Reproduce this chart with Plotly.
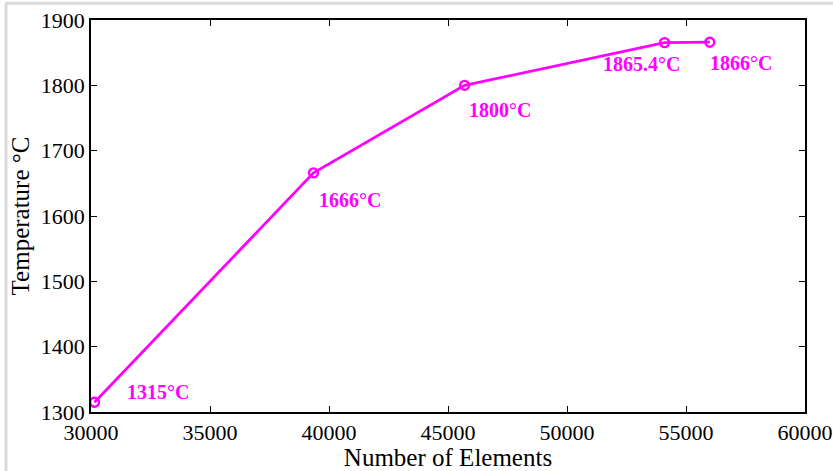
import plotly.graph_objects as go

# Mesh refinement study: peak temperature vs. element count
elements = [30150, 39350, 45700, 54100, 56000]
temperature = [1315, 1666, 1800, 1865.4, 1866]
labels = ["1315°C", "1666°C", "1800°C", "1865.4°C", "1866°C"]
# label offsets from each point, in pixels (dx, dy)
label_dx = [30, 3, 2, -64, -2]
label_dy = [10, -27, -25, -21, -21]

x_ticks = [30000, 35000, 40000, 45000, 50000, 55000, 60000]
y_ticks = [1300, 1400, 1500, 1600, 1700, 1800, 1900]

MAGENTA = "#ff00ff"
FONT = "Liberation Serif"

fig = go.Figure()
fig.add_trace(go.Scatter(
    x=elements, y=temperature, mode="lines+markers",
    line=dict(color=MAGENTA, width=2.8),
    marker=dict(symbol="circle-open", size=9, color=MAGENTA, line=dict(width=2.4)),
    showlegend=False, hoverinfo="skip",
))

for xv, yv, txt, dx, dy in zip(elements, temperature, labels, label_dx, label_dy):
    fig.add_annotation(
        x=xv, y=yv, text=f"<b>{txt}</b>", showarrow=False,
        xanchor="left", yanchor="middle", xshift=dx, yshift=dy,
        font=dict(family=FONT, size=20, color=MAGENTA),
    )

axis_common = dict(
    showgrid=False, zeroline=False, showline=True, linecolor="black", linewidth=1.5,
    mirror="ticks", ticks="inside", ticklen=6, tickwidth=1, tickcolor="black",
    tickfont=dict(family=FONT, size=22, color="black"), automargin=False,
)

fig.update_xaxes(range=[30000, 60000], tickvals=x_ticks,
                 ticktext=[str(v) for v in x_ticks],
                 title=dict(text="Number of Elements", standoff=0,
                            font=dict(family=FONT, size=25, color="black")),
                 **axis_common)
fig.update_yaxes(range=[1300, 1900], tickvals=y_ticks,
                 ticktext=[str(v) for v in y_ticks],
                 title=dict(text="Temperature °C", standoff=4,
                            font=dict(family=FONT, size=25, color="black")),
                 **axis_common)

# light frame along the top and left edges of the page
fig.add_shape(type="line", xref="paper", yref="paper", x0=-0.12, x1=1.05,
              y0=1.043, y1=1.043, line=dict(color="#d9d9d9", width=3))
fig.add_shape(type="line", xref="paper", yref="paper", x0=-0.119, x1=-0.119,
              y0=-0.16, y1=1.043, line=dict(color="#d9d9d9", width=3))

fig.update_layout(
    width=833, height=471,
    margin=dict(l=91, r=28, t=20, b=59),
    paper_bgcolor="white", plot_bgcolor="white",
)

fig.write_html("out.html")
